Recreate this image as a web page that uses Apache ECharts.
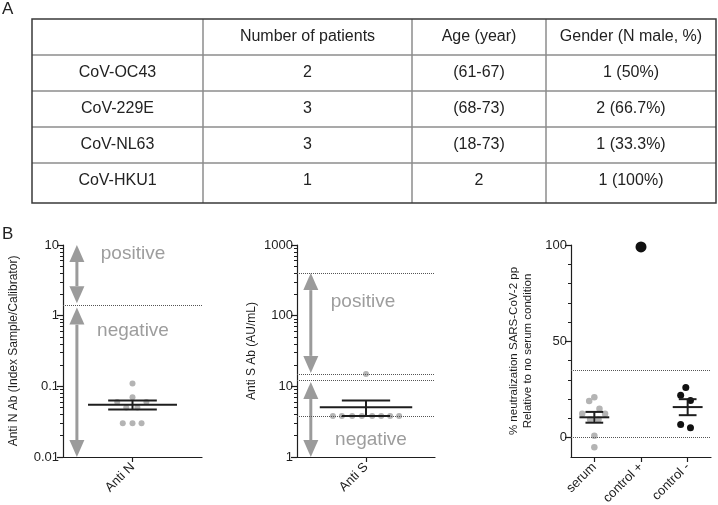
<!DOCTYPE html>
<html>
<head>
<meta charset="utf-8">
<script src="https://cdn.jsdelivr.net/npm/echarts@6/dist/echarts.min.js"></script>
<style>
html, body { margin: 0; padding: 0; background: #fff; }
#chart { width: 718px; height: 505px; }
</style>
</head>
<body>
<div id="chart"></div>
<script>
// ---- panel A : table ----
var tableHeader = ['', 'Number of patients', 'Age (year)', 'Gender (N male, %)'];
var tableRows = [
  ['CoV-OC43', '2', '(61-67)', '1 (50%)'],
  ['CoV-229E', '3', '(68-73)', '2 (66.7%)'],
  ['CoV-NL63', '3', '(18-73)', '1 (33.3%)'],
  ['CoV-HKU1', '1', '2', '1 (100%)']
];

// ---- panel B, left : anti N (log) ----
var antiNCategory = ['Anti N'];
var antiNValues = [0.11, 0.07, 0.06, 0.06, 0.05, 0.05, 0.03, 0.03, 0.03];
var antiNJitter = [0, 0, -0.22, 0.2, -0.09, 0.07, -0.14, 0, 0.13];
var antiNMean = [0.055];
var antiNSem = [[0.047, 0.063]];
var antiNCutoffs = [1.4];
var antiNArrows = [[10, 1.5], [1.3, 0.01]];
var antiNTicks = [0.01, 0.1, 1, 10];

// ---- panel B, middle : anti S (log) ----
var antiSCategory = ['Anti S'];
var antiSValues = [15, 3.8, 3.8, 3.8, 3.8, 3.8, 3.8, 3.8, 3.8];
var antiSJitter = [0, -0.48, -0.35, -0.2, -0.06, 0.09, 0.22, 0.35, 0.48];
var antiSMean = [5.05];
var antiSSem = [[3.8, 6.3]];
var antiSCutoffs = [400, 15, 12, 3.8];
var antiSArrows = [[400, 15.5], [11.5, 1]];
var antiSTicks = [1, 10, 100, 1000];

// ---- panel B, right : neutralization ----
var neutCategories = ['serum', 'control +', 'control -'];
var serumValues = [21, 19, 15, 12.5, 12.5, 9.5, 9.5, 1, -5];
var serumJitter = [0, -0.11, 0.11, -0.26, 0.23, -0.09, 0.09, 0, 0];
var ctrlPosValues = [99];
var ctrlNegValues = [26, 22, 19.3, 6.8, 5.2];
var ctrlNegJitter = [-0.04, -0.15, 0.06, -0.15, 0.06];
var neutMeans = [10.6, 15.9];
var neutSems = [[7.8, 13.4], [11.7, 20]];
var neutCutoffs = [35, 0];
var neutTicks = [0, 50, 100];
var neutMinorTicks = [10, 20, 30, 40, 60, 70, 80, 90];

var FONT = '"Liberation Sans", Arial, Helvetica, sans-serif';
var INK = '#1e1e1e';
var GREY_DOT = '#b4b4b4';
var ARROW = '#9b9b9b';

// minor ticks of a log axis, in log10 space
function logMinor(fromExp, toExp) {
  var out = [];
  for (var d = fromExp; d < toExp; d++) {
    for (var k = 2; k <= 9; k++) out.push(d + Math.log10(k));
  }
  return out;
}

function meanSemRenderer(halfW, capW) {
  return function (params, api) {
    var x = api.value(0), m = api.value(1), lo = api.value(2), hi = api.value(3);
    function seg(p, q) {
      return { type: 'line', shape: { x1: p[0], y1: p[1], x2: q[0], y2: q[1] },
               style: { stroke: INK, lineWidth: 2 } };
    }
    return {
      type: 'group',
      children: [
        seg(api.coord([x - halfW, m]), api.coord([x + halfW, m])),
        seg(api.coord([x - capW, lo]), api.coord([x + capW, lo])),
        seg(api.coord([x - capW, hi]), api.coord([x + capW, hi])),
        seg(api.coord([x, lo]), api.coord([x, hi]))
      ]
    };
  };
}

// double-headed vertical arrow, tips exactly on the two values
function arrowRenderer(headW, headH) {
  return function (params, api) {
    var x = api.value(0);
    var p1 = api.coord([x, api.value(1)]), p2 = api.coord([x, api.value(2)]);
    var dir = p2[1] > p1[1] ? 1 : -1;
    function head(tip, d) {
      return { type: 'polygon',
        shape: { points: [[tip[0], tip[1]], [tip[0] - headW / 2, tip[1] + d * headH], [tip[0] + headW / 2, tip[1] + d * headH]] },
        style: { fill: ARROW } };
    }
    return {
      type: 'group',
      children: [
        { type: 'line', shape: { x1: p1[0], y1: p1[1] + dir * headH, x2: p2[0], y2: p2[1] - dir * headH },
          style: { stroke: ARROW, lineWidth: 3 } },
        head(p1, dir),
        head(p2, -dir)
      ]
    };
  };
}

function dotted(values) {
  return {
    silent: true, symbol: 'none', animation: false,
    label: { show: false },
    lineStyle: { type: 'dotted', color: '#555', width: 1 },
    data: values.map(function (v) { return { yAxis: v }; })
  };
}

function zip(xs, ys, center) {
  return ys.map(function (v, i) { return [center + (xs ? xs[i] : 0), v]; });
}

function numLabel(v) { return String(+Number(v).toPrecision(6)); }

function xAxisFor(grid, min, max, cats) {
  var idx = cats.map(function (c, i) { return i; });
  return {
    type: 'value', gridIndex: grid, min: min, max: max,
    splitLine: { show: false },
    axisLine: { onZero: false, lineStyle: { color: INK, width: 1.2 } },
    axisTick: { customValues: idx, length: 5, lineStyle: { color: INK, width: 1.2 } },
    axisLabel: {
      customValues: idx, rotate: 45, margin: 8, color: INK, fontSize: 13, fontFamily: FONT,
      formatter: function (v) { return cats[Math.round(v)]; }
    }
  };
}

function mainY(grid, opt) {
  return Object.assign({
    gridIndex: grid, position: 'left', offset: 0,
    splitLine: { show: false },
    axisLine: { show: true, onZero: false, lineStyle: { color: INK, width: 1.2 } },
    axisTick: { show: true, length: 6, lineStyle: { color: INK, width: 1.2 } },
    axisLabel: { color: INK, fontSize: 13, fontFamily: FONT, margin: 4, formatter: numLabel },
    nameLocation: 'middle', nameRotate: 90,
    nameTextStyle: { color: INK, fontSize: 12, fontFamily: FONT, lineHeight: 14 }
  }, opt);
}

function minorY(grid, min, max, ticks) {
  return {
    type: 'value', gridIndex: grid, position: 'left', offset: 0, min: min, max: max,
    splitLine: { show: false },
    axisLine: { show: false, onZero: false },
    axisLabel: { show: false },
    axisTick: { show: true, customValues: ticks, length: 3, lineStyle: { color: INK, width: 1 } }
  };
}

// table graphic built from the arrays
var colX = [32, 203, 412, 546, 716];
var rowY = [19, 55, 91, 127, 163, 203];
var graphics = [];
graphics.push({ type: 'rect', shape: { x: colX[0], y: rowY[0], width: colX[4] - colX[0], height: rowY[5] - rowY[0] },
  style: { fill: 'none', stroke: '#3a3a3a', lineWidth: 1.5 }, z: 10 });
for (var r = 1; r < rowY.length - 1; r++) {
  graphics.push({ type: 'line', shape: { x1: colX[0], y1: rowY[r], x2: colX[4], y2: rowY[r] },
    style: { stroke: '#8c8c8c', lineWidth: 1.5 } });
}
for (var c = 1; c < colX.length - 1; c++) {
  graphics.push({ type: 'line', shape: { x1: colX[c], y1: rowY[0], x2: colX[c], y2: rowY[5] },
    style: { stroke: '#8c8c8c', lineWidth: 1.5 } });
}
[tableHeader].concat(tableRows).forEach(function (row, ri) {
  row.forEach(function (txt, ci) {
    if (!txt) return;
    graphics.push({ type: 'text', x: (colX[ci] + colX[ci + 1]) / 2, y: rowY[ri] + 18,
      style: { text: txt, fill: '#222', font: '16px ' + FONT, textAlign: 'center', textVerticalAlign: 'middle' } });
  });
});
graphics.push({ type: 'text', left: 2, top: 1, style: { text: 'A', fill: '#222', font: '17px ' + FONT } });
graphics.push({ type: 'text', left: 2, top: 226, style: { text: 'B', fill: '#222', font: '17px ' + FONT } });
function note(x, y, t) {
  graphics.push({ type: 'text', x: x, y: y,
    style: { text: t, fill: '#9d9d9d', font: '19px ' + FONT, textAlign: 'center', textVerticalAlign: 'middle' } });
}
note(133, 254, 'positive');
note(133, 331, 'negative');
note(363, 302, 'positive');
note(371, 440, 'negative');

function arrowSeries(xIdx, yIdx, x, pairs) {
  return { type: 'custom', xAxisIndex: xIdx, yAxisIndex: yIdx, silent: true, z: 3,
    renderItem: arrowRenderer(15, 17),
    encode: { x: 0, y: [1, 2] },
    data: pairs.map(function (p) { return [x, p[0], p[1]]; }) };
}

var option = {
  animation: false,
  backgroundColor: '#fff',
  textStyle: { fontFamily: FONT },
  graphic: graphics,
  grid: [
    { left: 63, top: 245, width: 139, height: 212, outerBoundsMode: 'none' },
    { left: 297, top: 245, width: 138, height: 212, outerBoundsMode: 'none' },
    { left: 571, top: 245, width: 140, height: 212, outerBoundsMode: 'none' }
  ],
  xAxis: [
    xAxisFor(0, -1, 1, antiNCategory),
    xAxisFor(1, -1, 1, antiSCategory),
    xAxisFor(2, -0.5, 2.5, neutCategories)
  ],
  yAxis: [
    mainY(0, { type: 'log', logBase: 10, min: antiNTicks[0], max: antiNTicks[antiNTicks.length - 1],
      name: 'Anti N Ab (Index Sample/Calibrator)', nameGap: 42 }),
    minorY(0, -2, 1, logMinor(-2, 1)),
    mainY(1, { type: 'log', logBase: 10, min: antiSTicks[0], max: antiSTicks[antiSTicks.length - 1],
      name: 'Anti S Ab (AU/mL)', nameGap: 38 }),
    minorY(1, 0, 3, logMinor(0, 3)),
    mainY(2, { type: 'value', min: -10, max: 100,
      axisTick: { show: true, customValues: neutTicks, length: 6, lineStyle: { color: INK, width: 1.2 } },
      axisLabel: { customValues: neutTicks, color: INK, fontSize: 13, fontFamily: FONT, margin: 4 },
      name: '% neutralization SARS-CoV-2 pp\nRelative to no serum condition', nameGap: 36,
      nameTextStyle: { color: INK, fontSize: 11.5, fontFamily: FONT, lineHeight: 14 } }),
    minorY(2, -10, 100, neutMinorTicks)
  ],
  series: [
    { type: 'scatter', xAxisIndex: 0, yAxisIndex: 0, symbolSize: 6, silent: true,
      itemStyle: { color: GREY_DOT, opacity: 1 },
      data: zip(antiNJitter, antiNValues, 0),
      markLine: dotted(antiNCutoffs) },
    { type: 'custom', xAxisIndex: 0, yAxisIndex: 0, silent: true, z: 5,
      renderItem: meanSemRenderer(0.64, 0.35),
      encode: { x: 0, y: [1, 2, 3] },
      data: antiNMean.map(function (m, i) { return [i, m, antiNSem[i][0], antiNSem[i][1]]; }) },
    arrowSeries(0, 0, -0.8, antiNArrows),

    { type: 'scatter', xAxisIndex: 1, yAxisIndex: 2, symbolSize: 6, silent: true,
      itemStyle: { color: GREY_DOT, opacity: 1 },
      data: zip(antiSJitter, antiSValues, 0),
      markLine: dotted(antiSCutoffs) },
    { type: 'custom', xAxisIndex: 1, yAxisIndex: 2, silent: true, z: 5,
      renderItem: meanSemRenderer(0.67, 0.35),
      encode: { x: 0, y: [1, 2, 3] },
      data: antiSMean.map(function (m, i) { return [i, m, antiSSem[i][0], antiSSem[i][1]]; }) },
    arrowSeries(1, 2, -0.8, antiSArrows),

    { type: 'scatter', xAxisIndex: 2, yAxisIndex: 4, symbolSize: 6.5, silent: true,
      itemStyle: { color: GREY_DOT, opacity: 1 },
      data: zip(serumJitter, serumValues, 0),
      markLine: dotted(neutCutoffs) },
    { type: 'scatter', xAxisIndex: 2, yAxisIndex: 4, symbolSize: 11, silent: true,
      itemStyle: { color: '#111', opacity: 1 },
      data: zip(null, ctrlPosValues, 1) },
    { type: 'scatter', xAxisIndex: 2, yAxisIndex: 4, symbolSize: 7, silent: true,
      itemStyle: { color: '#111', opacity: 1 },
      data: zip(ctrlNegJitter, ctrlNegValues, 2) },
    { type: 'custom', xAxisIndex: 2, yAxisIndex: 4, silent: true, z: 5,
      renderItem: meanSemRenderer(0.32, 0.19),
      encode: { x: 0, y: [1, 2, 3] },
      data: [[0, neutMeans[0], neutSems[0][0], neutSems[0][1]],
             [2, neutMeans[1], neutSems[1][0], neutSems[1][1]]] }
  ]
};

var chart = echarts.init(document.getElementById('chart'));
chart.setOption(option);
</script>
</body>
</html>
